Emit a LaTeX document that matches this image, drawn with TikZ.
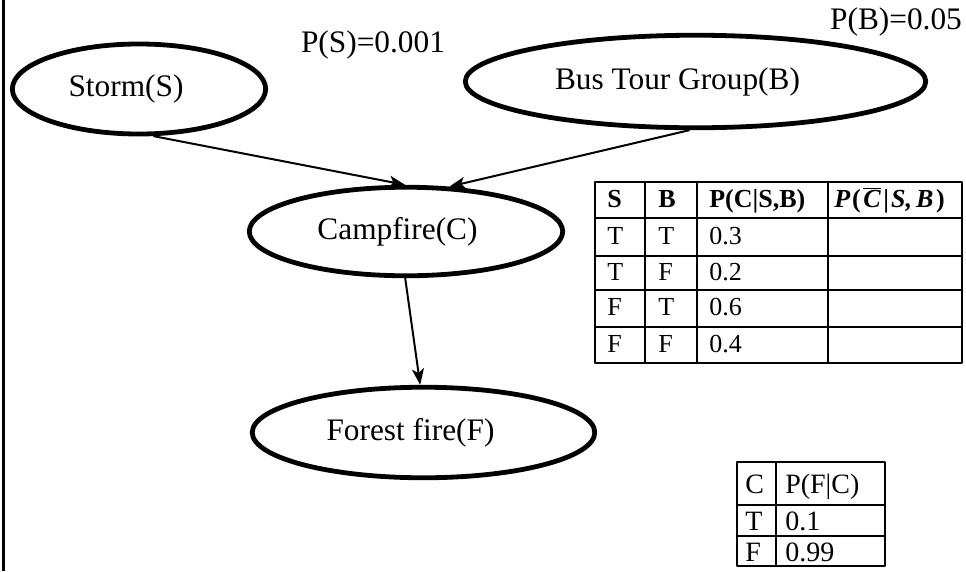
\documentclass[tikz,border=0pt]{standalone}
\usepackage{fontspec}
\setmainfont{Liberation Serif}
\usetikzlibrary{shapes.geometric,arrows.meta}

\tikzset{
  var/.style={draw, ellipse, line width=3.6pt, inner sep=0pt, font=\fontsize{23.5}{28}\selectfont},
  link/.style={-{Stealth[length=12pt,width=9pt,inset=3pt]}, line width=1.5pt},
  prior/.style={inner sep=0pt, font=\fontsize{23.5}{28}\selectfont},
  cell/.style={anchor=base west, inner sep=0pt, font=\fontsize{19.5}{23}\selectfont},
  bigcell/.style={anchor=base west, inner sep=0pt, font=\fontsize{21}{25}\selectfont},
  rule/.style={line width=1.1pt},
}

\begin{document}
\begin{tikzpicture}[x=0.75pt, y=-0.75pt, line join=round]
  \useasboundingbox (0,0) rectangle (966,571);
  \draw[line width=2.25pt] (3,0) -- (3,571);

  % the network
  \node[var, minimum width=190pt, minimum height=67.5pt] (storm) at (139,89) {Storm(S)\kern19.5pt};
  \node[var, minimum width=345.4pt, minimum height=69.4pt] (bus) at (695.5,81.5) {Bus Tour Group(B)\kern27pt};
  \node[var, minimum width=235.1pt, minimum height=66.4pt] (camp) at (406,231.5) {Campfire(C)\kern12.75pt};
  \node[var, minimum width=256.9pt, minimum height=67.9pt] (forest) at (423.5,432.5) {Forest fire(F)\kern19.5pt};

  \node[prior] (ps) at (373,45) {P(S)=0.001};
  \node[prior] (pb) at (896,22) {P(B)=0.05};

  \draw[link] (storm.-73) -- (camp.91);
  \draw[link] (bus.-97) -- (camp.46);
  \draw[link] (camp.-91) -- (forest.94);

  % table for C given S and B
  \draw[rule] (595,182) rectangle (962,363);
  \foreach \x in {645,697,828} \draw[rule] (\x,182) -- (\x,363);
  \foreach \y in {218,256,290,327} \draw[rule] (595,\y) -- (962,\y);

  \node[cell, font=\fontsize{19.5}{23}\selectfont\bfseries] (hs) at (607,207) {S};
  \node[cell, font=\fontsize{19.5}{23}\selectfont\bfseries] (hb) at (658,207) {B};
  \node[cell, font=\fontsize{19.5}{23}\selectfont\bfseries] (hc) at (709,207) {P(C|S,B)};
  \node[cell, font=\fontsize{19.5}{23}\selectfont\bfseries\itshape] (hnc) at (834,207)
    {P\kern1.5pt{\upshape(}\kern2pt$\overline{\hbox{\bfseries\itshape C}}$\kern2pt{\upshape|}\kern1.5pt S,\kern3pt B\kern2pt{\upshape)}};
  \foreach \s/\b/\p/\y [count=\i] in {T/T/0.3/244, T/F/0.2/280, F/T/0.6/315.5, F/F/0.4/352}{
    \node[cell] (s\i) at (607,\y) {\s};
    \node[cell] (b\i) at (658,\y) {\b};
    \node[cell] (c\i) at (709,\y) {\p};
  }

  % table for F given C
  \draw[rule] (737,462) rectangle (885,566);
  \draw[rule] (776,462) -- (776,566);
  \foreach \y in {505,536} \draw[rule] (737,\y) -- (885,\y);

  \node[bigcell] (hf) at (745,493) {C};
  \node[bigcell] (hfc) at (785,493) {P(F|C)};
  \foreach \c/\p/\y [count=\i] in {T/0.1/530, F/0.99/561}{
    \node[bigcell] (fc\i) at (745,\y) {\c};
    \node[bigcell] (fp\i) at (785,\y) {\p};
  }
\end{tikzpicture}
\end{document}
